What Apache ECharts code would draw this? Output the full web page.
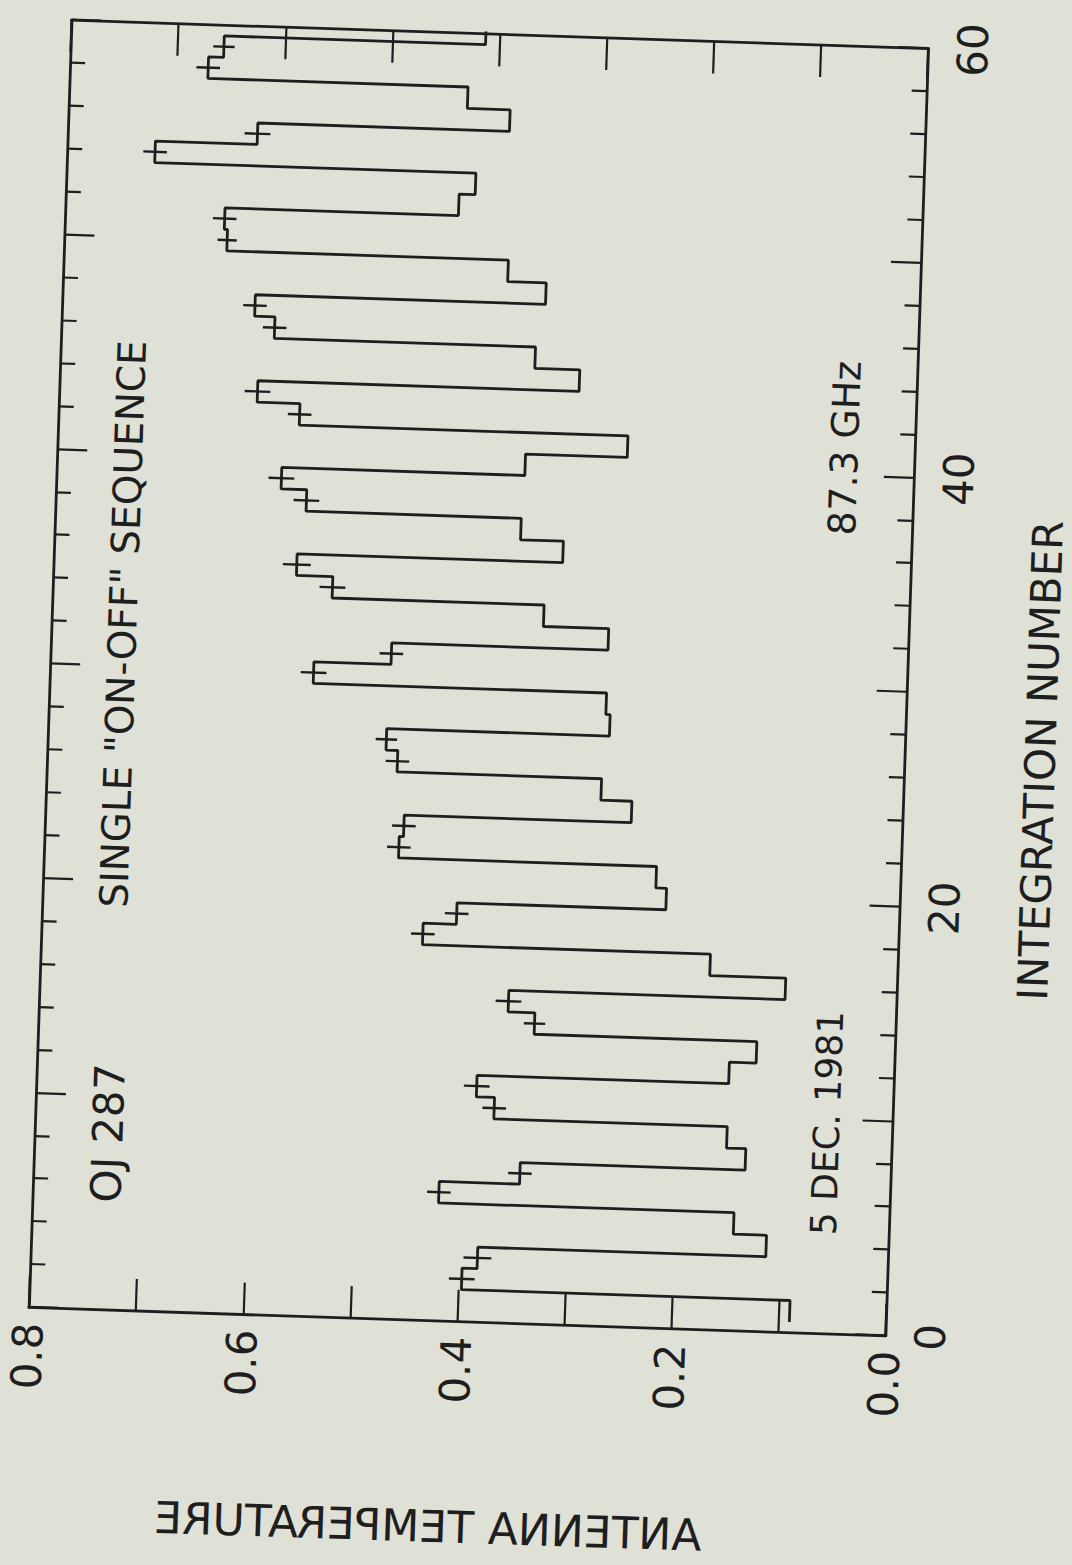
<!DOCTYPE html>
<html>
<head>
<meta charset="utf-8">
<title>OJ 287 single on-off sequence</title>
<script src="https://cdn.jsdelivr.net/npm/echarts@6/dist/echarts.min.js"></script>
<style>
    html, body { margin: 0; padding: 0; width: 1072px; height: 1565px; overflow: hidden; background: #dfe0d6; }
    /* plot is drawn landscape, then turned on its side (and a bit crooked, like the scan) */
    #chart { position: absolute; left: -246.5px; top: 246.5px; width: 1565px; height: 1072px; transform: rotate(-88.1deg); }
</style>
</head>
<body>
<div id="chart"></div>
<script>
// integration number of each step
var scans = [1, 2, 3, 4, 5, 6, 7, 8, 9, 10, 11, 12, 13, 14, 15, 16, 17, 18, 19, 20,
    21, 22, 23, 24, 25, 26, 27, 28, 29, 30, 31, 32, 33, 34, 35, 36, 37, 38, 39, 40,
    41, 42, 43, 44, 45, 46, 47, 48, 49, 50, 51, 52, 53, 54, 55, 56, 57, 58, 59, 60];
// antenna temperature (K) for each integration
var temps = [0.090, 0.397, 0.383, 0.114, 0.145, 0.421, 0.346, 0.136, 0.154, 0.372,
    0.389, 0.154, 0.129, 0.337, 0.362, 0.104, 0.175, 0.444, 0.413, 0.218,
    0.228, 0.469, 0.465, 0.253, 0.282, 0.473, 0.484, 0.276, 0.280, 0.554,
    0.482, 0.280, 0.341, 0.539, 0.573, 0.325, 0.365, 0.566, 0.590, 0.363,
    0.268, 0.575, 0.615, 0.315, 0.357, 0.601, 0.620, 0.349, 0.385, 0.648,
    0.651, 0.433, 0.418, 0.718, 0.623, 0.388, 0.428, 0.671, 0.657, 0.413];
// "on" integrations that carry an error cross, and the half length of the cross
var onScans = [2, 3, 6, 7, 10, 11, 14, 15, 18, 19, 22, 23, 26, 27, 30,
    31, 34, 35, 38, 39, 42, 43, 46, 47, 50, 51, 54, 55, 58, 59];
var onErr = [0.012, 0.013, 0.011, 0.011, 0.011, 0.012, 0.010, 0.012, 0.011, 0.011,
    0.011, 0.011, 0.011, 0.010, 0.012, 0.011, 0.012, 0.013, 0.012, 0.012,
    0.011, 0.012, 0.011, 0.011, 0.009, 0.011, 0.011, 0.012, 0.011, 0.010];
// labelled ticks
var scanLabels = [0, 20, 40, 60];
var tempLabels = ['0.0', '0.2', '0.4', '0.6', '0.8'];

var ink = '#1e1e1e';
var font = 'DejaVu Sans';

// each integration drawn as a flat step from n-0.5 to n+0.5
var stepData = scans.map(function(n, i) {
    return [n - 0.5, temps[i]];
});
stepData.push([scans[scans.length - 1] + 0.5, temps[temps.length - 1]]);

var errData = onScans.map(function(n, i) {
    return [n, temps[scans.indexOf(n)], onErr[i]];
});

function scanAxis(pos, labels) {
    return {
        type: 'value',
        position: pos,
        min: 0,
        max: 60,
        interval: 10,
        axisLine: { onZero: false, lineStyle: { color: ink, width: 2.8 } },
        axisTick: { inside: true, length: 30, lineStyle: { color: ink, width: 2.2 } },
        minorTick: { show: true, splitNumber: 5, length: 15, lineStyle: { color: ink, width: 2.2 } },
        axisLabel: {
            show: labels,
            margin: 24,
            color: ink,
            fontSize: 42,
            fontFamily: font,
            formatter: function(v) {
                return scanLabels.indexOf(v) >= 0 ? String(v) : '';
            }
        },
        splitLine: { show: false }
    };
}

function tempAxis(pos, labels) {
    return {
        type: 'value',
        position: pos,
        min: 0,
        max: 0.8,
        interval: 0.1,
        axisLine: { onZero: false, lineStyle: { color: ink, width: 2.8 } },
        axisTick: { inside: true, length: 32, lineStyle: { color: ink, width: 2.2 } },
        axisLabel: {
            show: labels,
            margin: 15,
            color: ink,
            fontSize: 42,
            fontFamily: font,
            formatter: function(v) {
                var s = v.toFixed(1);
                return tempLabels.indexOf(s) >= 0 ? s : '';
            }
        },
        splitLine: { show: false }
    };
}

function note(text, x, y, size) {
    return {
        type: 'text',
        x: x,
        y: y,
        style: { text: text, fill: ink, fontSize: size, fontFamily: font, align: 'center', verticalAlign: 'middle' }
    };
}

var chart = echarts.init(document.getElementById('chart'), null, { renderer: 'svg' });
chart.setOption({
    animation: false,
    backgroundColor: 'transparent',
    grid: { left: 241.5, right: 35.5, top: 46, bottom: 169 },
    xAxis: [scanAxis('bottom', true), scanAxis('top', false)],
    yAxis: [tempAxis('left', true), tempAxis('right', false)],
    series: [{
        type: 'line',
        step: 'end',
        data: stepData,
        symbol: 'none',
        clip: true,
        lineStyle: { color: ink, width: 2.8 }
    }, {
        type: 'custom',
        data: errData,
        renderItem: function(params, api) {
            var x = api.value(0), y = api.value(1), e = api.value(2);
            var a = api.coord([x, y - e]);
            var b = api.coord([x, y + e]);
            return {
                type: 'line',
                shape: { x1: a[0], y1: a[1], x2: b[0], y2: b[1] },
                style: { stroke: ink, lineWidth: 2.4 }
            };
        }
    }],
    graphic: [
        note('OJ 287', 418.5, 119.4, 42),
        note('SINGLE "ON-OFF" SEQUENCE', 927.7, 117.5, 39),
        note('87.3 GHz', 1127.5, 833.2, 38),
        note('5 DEC. 1981', 452.3, 837.6, 36),
        note('INTEGRATION NUMBER', 821.7, 1039, 42),
        {
            // the temperature title is printed mirrored in the original
            type: 'text',
            x: 36,
            y: 452,
            rotation: Math.PI / 2,
            scaleY: -1,
            style: { text: 'ANTENNA TEMPERATURE', fill: ink, fontSize: 44, fontFamily: font, align: 'center', verticalAlign: 'middle' }
        }
    ]
});
</script>
</body>
</html>
